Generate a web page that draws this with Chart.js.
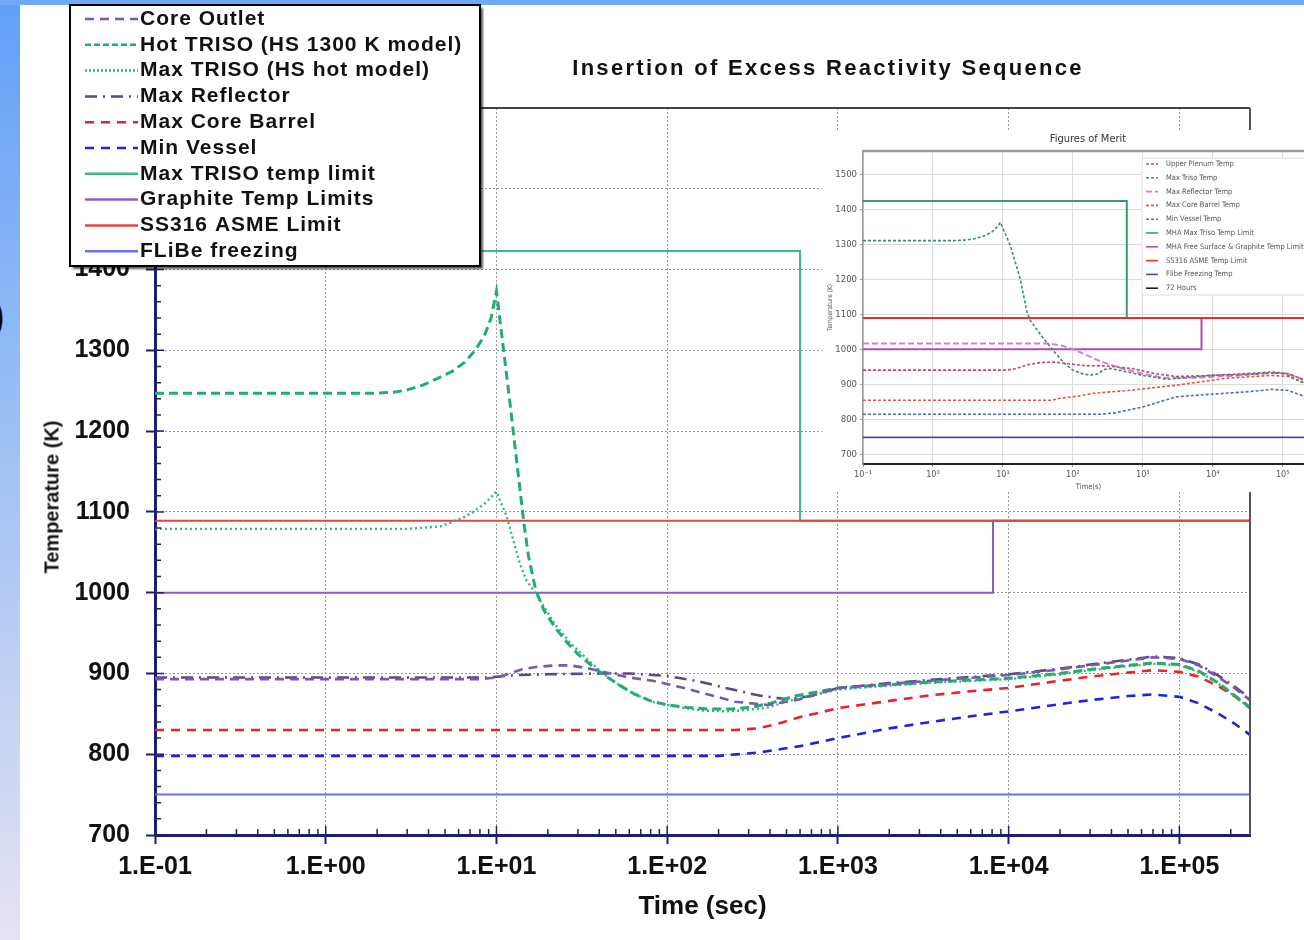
<!DOCTYPE html>
<html lang="en">
  <head>
    <meta charset="UTF-8" />
    <title>Insertion of Excess Reactivity Sequence</title>
    <script src="https://cdn.jsdelivr.net/npm/chart.js"></script>
    <style>
      html,
      body {
        margin: 0;
        padding: 0;
        width: 1304px;
        height: 940px;
        overflow: hidden;
        background: #fff;
        font-family: "Liberation Sans", Arial, sans-serif;
      }
      .strip-left {
        position: absolute;
        left: 0;
        top: 0;
        width: 20px;
        height: 940px;
        background: linear-gradient(to bottom, #62a0f8 0%, #9cc0f3 45%, #e6e2f3 100%);
      }
      .strip-top {
        position: absolute;
        left: 0;
        top: 0;
        width: 1304px;
        height: 5px;
        background: #6fa9f7;
      }
      .paren {
        position: absolute;
        left: -9px;
        top: 294px;
        font: bold 40px "Liberation Sans", Arial, sans-serif;
        color: #000;
      }
      #mainChart {
        position: absolute;
        left: 0;
        top: 0;
      }
      .title {
        position: absolute;
        left: 528px;
        top: 55px;
        width: 600px;
        text-align: center;
        font: bold 22px "Liberation Sans", Arial, sans-serif;
        letter-spacing: 2.3px;
        color: #111;
      }
      .ylabel {
        position: absolute;
        left: 52px;
        top: 497px;
        transform: translate(-50%, -50%) rotate(-90deg);
        font: bold 20px "Liberation Sans", Arial, sans-serif;
        white-space: nowrap;
        color: #111;
      }
      .inset {
        position: absolute;
        left: 822px;
        top: 130px;
        width: 500px;
        height: 362px;
        background: #fff;
        z-index: 2;
      }
      .inset-title {
        position: absolute;
        left: 166px;
        top: 2px;
        width: 200px;
        text-align: center;
        font: 11px "DejaVu Sans Condensed", "DejaVu Sans", sans-serif;
        color: #333;
      }
      #insetChart {
        position: absolute;
        left: 0;
        top: 0;
      }
    </style>
  </head>
  <body>
    <div class="strip-left"></div>
    <div class="strip-top"></div>
    <div class="paren">)</div>
    <canvas id="mainChart" width="1304" height="940"></canvas>
    <div class="title">Insertion of Excess Reactivity Sequence</div>
    <div class="ylabel">Temperature (K)</div>
    <div class="inset">
      <canvas id="insetChart" width="500" height="362"></canvas>
      <div class="inset-title">Figures of Merit</div>
    </div>

    <script>
      // ---- main chart data: [time (s), temperature (K)] ----
      const xTickValues = [0.1, 1, 10, 100, 1000, 10000, 100000];
      const xTickLabels = ["1.E-01", "1.E+00", "1.E+01", "1.E+02", "1.E+03", "1.E+04", "1.E+05"];
      const yTickValues = [700, 800, 900, 1000, 1100, 1200, 1300, 1400, 1500];

      const coreOutlet = [
        [0.1, 893], [8, 893], [10, 895], [12, 900], [14, 905], [17, 908], [22, 910], [27, 910],
        [35, 906], [42, 902], [60, 895], [82, 891], [120, 883], [160, 876], [250, 865], [390, 861],
        [600, 868], [1000, 882], [2000, 887], [4000, 892], [10000, 898], [20000, 905], [30000, 910],
        [50000, 916], [70000, 920], [100000, 918], [130000, 910], [170000, 895], [210000, 882], [259200, 867],
      ];
      const hotTriso = [
        [0.1, 1247], [2, 1247], [2.5, 1248], [3, 1251], [3.7, 1257], [4.5, 1265], [5.5, 1274],
        [6.5, 1285], [7.5, 1300], [8.5, 1318], [9.3, 1340], [10, 1373], [12, 1235], [14.4, 1090],
        [15.4, 1045], [17, 1003], [19, 978], [22, 957], [26, 938], [30, 924], [36, 910], [42, 899],
        [52, 886], [65, 874], [80, 866], [100, 861], [130, 858], [175, 856], [240, 856], [310, 858],
        [400, 863], [560, 872], [800, 878], [1000, 882], [2000, 886], [4000, 890], [10000, 894],
        [20000, 900], [30000, 905], [50000, 910], [70000, 913], [100000, 911], [130000, 903],
        [170000, 888], [210000, 873], [259200, 858],
      ];
      const maxTriso = [
        [0.1, 1079], [3, 1079], [4.7, 1082], [6.4, 1093], [7.3, 1100], [8.5, 1110], [10, 1125],
        [11.5, 1094], [13.7, 1036], [15, 1015], [17, 999], [22, 961], [27, 938], [33.5, 919],
        [42, 900], [52, 886], [65, 874], [82, 865], [100, 861], [128, 857], [160, 854], [226, 853],
        [300, 855], [390, 858], [560, 868], [1000, 880], [2000, 885], [4000, 889], [10000, 893],
        [20000, 899], [30000, 904], [50000, 909], [70000, 912], [100000, 910], [130000, 902],
        [170000, 887], [210000, 872], [259200, 857],
      ];
      const maxReflector = [
        [0.1, 895], [9, 895], [10, 896], [13, 898], [20, 899], [40, 900], [60, 900], [100, 897],
        [155, 890], [220, 882], [340, 873], [500, 868], [700, 872], [1000, 882], [2000, 888],
        [4000, 893], [10000, 899], [20000, 906], [30000, 911], [50000, 917], [70000, 921],
        [100000, 919], [130000, 911], [170000, 897], [210000, 884], [259200, 869],
      ];
      const maxCoreBarrel = [
        [0.1, 830], [250, 830], [340, 832], [450, 838], [600, 846], [800, 852], [1000, 857],
        [2000, 866], [3500, 873], [6000, 878], [10000, 882], [20000, 891], [30000, 896],
        [50000, 901], [70000, 904], [100000, 902], [130000, 896], [170000, 884], [210000, 872], [259200, 857],
      ];
      const minVessel = [
        [0.1, 798], [200, 798], [340, 802], [600, 810], [1000, 820], [2000, 832], [3500, 840],
        [6000, 847], [10000, 853], [20000, 862], [30000, 867], [50000, 872], [70000, 874],
        [100000, 871], [130000, 863], [170000, 850], [210000, 838], [259200, 824],
      ];
      const trisoLimit = [[0.1, 1423], [600, 1423], [600, 1089], [259200, 1089]];
      const graphiteLimit = [[0.1, 1000], [8100, 1000], [8100, 1089], [259200, 1089]];
      const ss316Limit = [[0.1, 1089], [259200, 1089]];
      const flibeFreezing = [[0.1, 750], [259200, 750]];

      // ---- inset ("Figures of Merit") data ----
      const insetXTickLabels = ["10⁻¹", "10⁰", "10¹", "10²", "10³", "10⁴", "10⁵"];
      const insetYTickValues = [700, 800, 900, 1000, 1100, 1200, 1300, 1400, 1500];

      const upperPlenum = [
        [0.1, 940], [11, 940], [15, 944], [22, 955], [35, 962], [55, 963], [90, 958], [150, 953],
        [300, 952], [700, 945], [1500, 930], [3000, 922], [10000, 925], [30000, 928], [70000, 932],
        [120000, 930], [200000, 913], [280000, 893],
      ];
      const insetMaxTriso = [
        [0.1, 1310], [2, 1310], [3, 1312], [4, 1316], [5.5, 1324], [7, 1335], [8.5, 1352],
        [9.2, 1362], [12.7, 1297], [17.6, 1203], [22, 1107], [24.5, 1083], [35, 1040], [52, 997],
        [75, 960], [100, 940], [140, 929], [180, 926], [230, 930], [280, 942], [340, 945],
        [600, 935], [1000, 925], [2200, 914], [5000, 920], [9000, 925], [30000, 930], [70000, 935],
        [100000, 932], [200000, 903], [280000, 885],
      ];
      const insetMaxReflector = [
        [0.1, 1016], [45, 1016], [70, 1010], [100, 1000], [150, 985], [250, 965], [500, 945],
        [1000, 930], [2000, 918], [5000, 918], [20000, 924], [70000, 932], [120000, 930],
        [200000, 912], [280000, 894],
      ];
      const insetCoreBarrel = [
        [0.1, 854], [50, 854], [66, 860], [120, 866], [200, 874], [700, 883], [3000, 897],
        [16000, 917], [70000, 925], [120000, 922], [200000, 905], [280000, 888],
      ];
      const insetMinVessel = [
        [0.1, 814], [250, 814], [400, 818], [1000, 835], [3000, 864], [9000, 871], [30000, 878],
        [70000, 885], [120000, 882], [200000, 866], [280000, 852],
      ];
      const mhaTrisoLimit = [[0.1, 1423], [590, 1423], [590, 1089], [280000, 1089]];
      const mhaGraphiteLimit = [[0.1, 1000], [6900, 1000], [6900, 1089], [280000, 1089]];
      const insetSs316 = [[0.1, 1089], [280000, 1089]];
      const insetFlibe = [[0.1, 748], [280000, 748]];
      const hours72 = [[259200, 672], [259200, 1566]];

      // Utility
      const pts = (arr) => arr.map(([x, y]) => ({ x, y }));

      const line = (label, data, color, width, dash, order) => ({
        label,
        data: pts(data),
        borderColor: color,
        backgroundColor: color,
        borderWidth: width,
        borderDash: dash,
        pointRadius: 0,
        tension: 0,
        fill: false,
        order,
      });

      // boxed legend drawn over the plot
      const boxLegend = {
        id: "boxLegend",
        afterDraw(chart) {
          const o = chart.options.plugins.boxLegend;
          const ctx = chart.ctx;
          ctx.save();
          if (o.shadow) {
            ctx.shadowColor = o.shadow;
            ctx.shadowOffsetX = 3;
            ctx.shadowOffsetY = 3;
            ctx.shadowBlur = 2;
          }
          ctx.fillStyle = "#fff";
          ctx.fillRect(o.x, o.y, o.w, o.h);
          ctx.shadowColor = "transparent";
          ctx.lineWidth = o.borderWidth;
          ctx.strokeStyle = o.borderColor;
          ctx.strokeRect(o.x, o.y, o.w, o.h);
          ctx.font = o.font;
          ctx.textBaseline = "middle";
          if (o.letterSpacing) ctx.letterSpacing = o.letterSpacing;
          chart.data.datasets.forEach((ds, i) => {
            const y = o.y + o.first + i * o.row;
            ctx.save();
            ctx.strokeStyle = ds.borderColor;
            ctx.lineWidth = o.sampleWidth;
            ctx.setLineDash(ds.legendDash || ds.borderDash || []);
            ctx.beginPath();
            ctx.moveTo(o.x + o.sx0, y);
            ctx.lineTo(o.x + o.sx1, y);
            ctx.stroke();
            ctx.restore();
            ctx.fillStyle = o.textColor;
            ctx.fillText(ds.label, o.x + o.tx, y);
          });
          ctx.restore();
        },
      };

      // top / right frame of the plot area
      const frame = {
        id: "frame",
        afterDatasetsDraw(chart) {
          const o = chart.options.plugins.frame;
          const { ctx, chartArea: a } = chart;
          ctx.save();
          ctx.lineWidth = o.width;
          ctx.strokeStyle = o.top;
          ctx.beginPath();
          ctx.moveTo(a.left, a.top);
          ctx.lineTo(a.right, a.top);
          ctx.stroke();
          if (o.right) {
            ctx.strokeStyle = o.right;
            ctx.beginPath();
            ctx.moveTo(a.right, a.top);
            ctx.lineTo(a.right, a.bottom);
            ctx.stroke();
          }
          ctx.restore();
        },
      };

      // inward minor ticks on both axes
      const minorTicks = {
        id: "minorTicks",
        afterDatasetsDraw(chart) {
          const o = chart.options.plugins.minorTicks;
          if (!o) return;
          const { ctx, chartArea: a, scales } = chart;
          const x = scales.x;
          const y = scales.y;
          ctx.save();
          ctx.strokeStyle = o.color;
          ctx.lineWidth = o.width;
          ctx.beginPath();
          for (let v = y.min; v <= y.max; v += o.yStep) {
            const p = y.getPixelForValue(v);
            const len = v % 100 === 0 ? o.majorLen : o.minorLen;
            ctx.moveTo(a.left, p);
            ctx.lineTo(a.left + len, p);
          }
          for (let d = x.min; d < x.max; d *= 10) {
            for (let k = 1; k <= 9; k++) {
              const v = k * d;
              if (v > x.max) break;
              const p = x.getPixelForValue(v);
              const len = k === 1 ? o.majorLen : o.minorLen;
              ctx.moveTo(p, a.bottom);
              ctx.lineTo(p, a.bottom - len);
            }
          }
          ctx.stroke();
          ctx.restore();
        },
      };

      const sans = '"Liberation Sans", Arial, sans-serif';
      const navy = "#1e1e6e";

      // ---- main chart ----
      const mainDatasets = [
        line("Core Outlet", coreOutlet, "#7b56b2", 2.6, [9, 6], 0),
        line("Hot TRISO (HS 1300 K model)", hotTriso, "#1fae6e", 3, [9, 5], 0),
        line("Max TRISO (HS hot model)", maxTriso, "#33b676", 2.4, [2, 3], 0),
        line("Max Reflector", maxReflector, "#5e4688", 2.6, [12, 6, 2, 6], 0),
        line("Max Core Barrel", maxCoreBarrel, "#ec2226", 2.6, [9, 7], 0),
        line("Min Vessel", minVessel, "#2222dc", 2.6, [9, 7], 0),
        line("Max TRISO temp limit", trisoLimit, "#3cba86", 2, [], 2),
        line("Graphite Temp Limits", graphiteLimit, "#8a5ec6", 2, [], 2),
        line("SS316 ASME Limit", ss316Limit, "#e1473f", 2, [], 1),
        line("FLiBe freezing", flibeFreezing, "#6c6cf6", 2, [], 2),
      ];
      mainDatasets[1].legendDash = [6, 3];
      mainDatasets[2].legendDash = [2, 2];

      new Chart(document.getElementById("mainChart"), {
        type: "line",
        data: { datasets: mainDatasets },
        plugins: [frame, minorTicks, boxLegend],
        options: {
          responsive: false,
          animation: false,
          events: [],
          layout: { padding: { left: 20, top: 108, right: 54, bottom: 0 } },
          plugins: {
            legend: { display: false },
            tooltip: { enabled: false },
            frame: { width: 2, top: "#444", right: "#555" },
            minorTicks: { color: navy, width: 1.5, yStep: 20, minorLen: 6, majorLen: 9 },
            boxLegend: {
              x: 70, y: 5, w: 410, h: 261, first: 14, row: 25.8,
              sx0: 15, sx1: 68, tx: 70, sampleWidth: 2.5,
              font: "bold 21px " + sans,
              letterSpacing: "1px", textColor: "#111",
              borderColor: "#000", borderWidth: 2, shadow: "rgba(0,0,0,0.65)",
            },
          },
          scales: {
            x: {
              type: "logarithmic",
              min: 0.1,
              max: 259200,
              afterBuildTicks: (s) => {
                s.ticks = xTickValues.map((v) => ({ value: v }));
              },
              afterFit: (s) => {
                s.height = 105;
              },
              grid: { color: "#9a9a9a", lineWidth: 1, tickLength: 9, tickColor: navy, tickWidth: 2 },
              border: { color: navy, width: 3, dash: [2, 2] },
              ticks: {
                autoSkip: false,
                maxRotation: 0,
                padding: 8,
                color: "#111",
                font: { family: sans, size: 25, weight: "bold" },
                callback: (v, i) => xTickLabels[i],
              },
              title: {
                display: true,
                text: "Time (sec)",
                color: "#111",
                font: { family: sans, size: 26, weight: "bold" },
                padding: { top: 0, bottom: 18 },
              },
            },
            y: {
              min: 700,
              max: 1600,
              afterBuildTicks: (s) => {
                s.ticks = yTickValues.map((v) => ({ value: v }));
              },
              afterFit: (s) => {
                s.width = 135;
              },
              grid: { color: "#9a9a9a", lineWidth: 1, tickLength: 9, tickColor: navy, tickWidth: 2 },
              border: { color: navy, width: 3, dash: [2, 2] },
              ticks: {
                padding: 16,
                color: "#111",
                font: { family: sans, size: 25, weight: "bold" },
                callback: (v) => String(v),
              },
            },
          },
        },
      });

      // ---- inset chart ----
      const insetDatasets = [
        line("Upper Plenum Temp", upperPlenum, "#c9407c", 1.6, [3, 2], 0),
        line("Max Triso Temp", insetMaxTriso, "#3a8f66", 1.6, [3, 2], 0),
        line("Max Reflector Temp", insetMaxReflector, "#d27ed2", 2, [6, 3], 0),
        line("Max Core Barrel Temp", insetCoreBarrel, "#e4573f", 1.6, [3, 2], 0),
        line("Min Vessel Temp", insetMinVessel, "#4a6cc8", 1.6, [3, 2], 0),
        line("MHA Max Triso Temp Limit", mhaTrisoLimit, "#3d9b6c", 2, [], 2),
        line("MHA Free Surface & Graphite Temp Limit", mhaGraphiteLimit, "#b449b4", 2, [], 2),
        line("SS316 ASME Temp Limit", insetSs316, "#ea2c2c", 2, [], 1),
        line("Flibe Freezing Temp", insetFlibe, "#3f4f9c", 1.6, [], 2),
        line("72 Hours", hours72, "#222", 1.6, [], 2),
      ];

      const condensed = '"DejaVu Sans Condensed", "DejaVu Sans", sans-serif';

      new Chart(document.getElementById("insetChart"), {
        type: "line",
        data: { datasets: insetDatasets },
        plugins: [frame, boxLegend],
        options: {
          responsive: false,
          animation: false,
          events: [],
          layout: { padding: { left: 4, top: 21, right: 8, bottom: 0 } },
          plugins: {
            legend: { display: false },
            tooltip: { enabled: false },
            frame: { width: 2.5, top: "#9a9a9a" },
            boxLegend: {
              x: 320, y: 28, w: 200, h: 137, first: 6, row: 13.8,
              sx0: 4, sx1: 16, tx: 24, sampleWidth: 1.6,
              font: "7.5px " + condensed, textColor: "#555",
              borderColor: "#dddddd", borderWidth: 1,
            },
          },
          scales: {
            x: {
              type: "logarithmic",
              min: 0.1,
              max: 280000,
              afterBuildTicks: (s) => {
                s.ticks = xTickValues.map((v) => ({ value: v }));
              },
              afterFit: (s) => {
                s.height = 28;
              },
              grid: { color: "#dcdcdc", lineWidth: 1, tickLength: 3, tickColor: "#999" },
              border: { color: "#222", width: 2 },
              ticks: {
                autoSkip: false,
                maxRotation: 0,
                padding: 2,
                color: "#555",
                font: { family: condensed, size: 9 },
                callback: (v, i) => insetXTickLabels[i],
              },
              title: {
                display: true,
                text: "Time(s)",
                color: "#555",
                font: { family: condensed, size: 7.5 },
                padding: { top: 0, bottom: 0 },
              },
            },
            y: {
              min: 672,
              max: 1566,
              afterBuildTicks: (s) => {
                s.ticks = insetYTickValues.map((v) => ({ value: v }));
              },
              afterFit: (s) => {
                s.width = 37;
              },
              grid: { color: "#dcdcdc", lineWidth: 1, tickLength: 3, tickColor: "#999" },
              border: { color: "#999", width: 1.5 },
              ticks: {
                padding: 3,
                color: "#555",
                font: { family: condensed, size: 9.5 },
                callback: (v) => String(v),
              },
              title: {
                display: true,
                text: "Temperature (K)",
                color: "#555",
                font: { family: condensed, size: 6.5 },
                padding: { top: 0, bottom: 0 },
              },
            },
          },
        },
      });
    </script>
  </body>
</html>
